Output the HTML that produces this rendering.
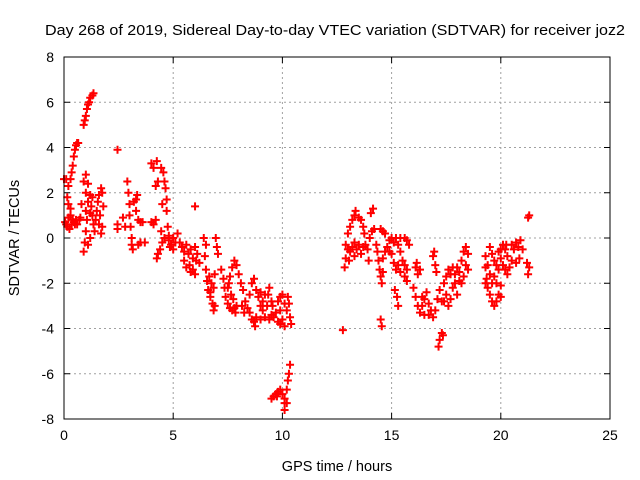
<!DOCTYPE html>
<html><head><meta charset="utf-8"><style>
html,body{margin:0;padding:0;background:#fff;}
svg{display:block;font-family:"Liberation Sans",sans-serif;}
</style></head><body>
<svg id="c" width="640" height="480">
<text x="335" y="35" text-anchor="middle" font-size="14.5" textLength="580" lengthAdjust="spacingAndGlyphs">Day 268 of 2019, Sidereal Day-to-day VTEC variation (SDTVAR) for receiver joz2</text>
<text x="337" y="471" text-anchor="middle" font-size="14.5">GPS time / hours</text>
<text transform="translate(19,238) rotate(-90)" text-anchor="middle" font-size="14.5">SDTVAR / TECUs</text>
<g id="grid"></g><g id="ticks"></g><g id="pts"></g>
<rect x="64" y="57" width="546" height="362" fill="none" stroke="#000" stroke-width="1"/>
</svg>
<script>
const xTicks=[0,5,10,15,20,25];
const yTicks=[-8,-6,-4,-2,0,2,4,6,8];
const times=[0.05,0.1,0.15,0.2,0.25,0.3,0.35,0.4,0.45,0.5,0.55,0.6,0.2,0.15,0.3,0.1,0.0,0.2,
0.3,0.35,0.4,0.45,0.5,0.55,0.6,0.65,
0.9,0.95,1.0,1.05,1.1,1.15,1.2,1.3,1.35,
0.9,0.95,1.0,1.05,1.0,1.1,1.0,0.9,1.0,1.1,1.2,1.25,1.3,1.35,1.4,1.2,1.1,1.45,1.5,1.55,1.6,1.7,1.65,1.6,1.7,1.75,1.8,1.75,1.2,1.3,0.7,0.8,0.75,
2.45,2.45,2.45,2.8,2.7,
2.9,2.95,3.0,3.0,3.05,3.1,3.15,3.1,3.2,3.3,3.3,3.4,3.35,3.4,3.5,3.5,3.7,3.6,
4.0,4.1,4.25,4.3,4.2,4.45,4.55,4.6,4.65,4.7,4.7,4.75,4.8,4.5,4.45,4.4,4.3,4.25,4.5,4.0,4.1,4.2,4.6,4.8,4.9,5.0,5.0,5.1,5.2,4.85,
6.0,
5.3,5.4,5.5,5.6,5.7,5.5,5.6,5.75,5.8,5.9,6.0,5.9,6.05,6.1,6.2,5.8,6.0,
6.4,6.5,6.45,6.5,6.55,6.6,6.7,6.8,6.9,6.65,6.75,6.85,6.9,6.95,7.0,7.05,6.7,6.85,
7.2,7.3,7.35,7.4,7.5,7.6,7.7,7.8,7.9,7.5,7.6,7.7,7.8,7.9,8.0,7.65,7.75,8.1,8.2,7.85,8.15,8.25,7.55,
8.3,8.4,8.5,8.6,8.7,8.75,8.8,8.5,8.6,8.7,8.8,8.9,9.0,9.1,9.2,9.3,9.35,9.4,9.5,9.6,9.7,9.2,9.0,9.1,9.55,9.4,9.5,9.0,9.8,9.9,
9.8,9.9,10.0,10.1,10.2,10.25,10.3,10.35,10.4,10.0,10.1,9.9,
9.5,9.6,9.7,9.8,9.9,10.0,10.1,10.1,10.1,10.2,10.2,10.25,10.3,10.35,9.75,
12.77,
12.9,12.9,12.85,13.0,13.0,13.1,13.2,13.3,13.35,13.5,13.6,13.7,13.75,13.1,13.2,13.3,13.4,13.5,13.6,13.7,13.8,13.9,13.3,13.05,13.95,14.0,14.1,14.2,14.05,14.15,14.5,14.6,14.7,
14.3,14.35,14.4,14.45,14.5,14.55,14.6,14.6,14.7,14.8,14.9,14.5,14.55,
14.9,15.0,15.1,15.2,15.3,15.4,15.5,15.6,15.7,15.0,15.1,15.2,15.3,15.4,15.6,15.7,15.15,15.25,15.3,15.6,15.7,15.8,15.4,
16.1,16.2,16.3,16.15,16.9,17.0,17.05,16.95,
16.0,16.1,16.2,16.3,16.4,16.5,16.6,16.7,16.8,16.9,17.0,17.1,17.2,16.5,16.4,16.7,17.3,17.3,17.2,17.15,17.35,
17.4,17.5,17.6,17.7,17.8,17.9,18.0,18.1,18.2,18.3,18.4,18.5,18.4,18.3,18.2,17.5,17.6,17.7,17.8,17.9,18.0,18.1,18.5,17.4,
19.3,19.3,19.35,19.4,19.5,19.6,19.7,19.8,19.9,20.0,19.5,19.6,19.7,19.8,19.9,19.4,19.5,19.6,19.7,19.8,19.9,20.0,20.1,20.2,20.3,20.4,20.5,20.1,20.2,20.3,20.5,20.6,20.7,20.8,20.9,21.0,20.85,20.7,20.0,19.3,21.25,21.3,21.2,21.25,21.3,20.25,20.0];
const values=[0.7,0.6,0.5,0.9,0.4,1.0,0.6,0.8,0.7,0.6,0.8,0.6,1.5,1.8,1.3,2.6,2.6,2.3,
2.6,2.9,3.2,3.6,3.9,4.1,4.2,4.2,
5.0,5.2,5.4,5.7,5.9,6.0,6.2,6.3,6.4,
-0.6,-0.2,0.3,0.8,1.2,1.6,2.0,2.5,2.8,2.4,1.9,1.4,1.0,0.6,0.3,0.0,-0.3,0.8,1.2,1.6,1.9,2.2,1.0,0.6,0.2,0.5,1.4,2.0,1.1,1.8,0.8,1.5,0.9,
3.9,0.6,0.4,0.5,0.9,
2.5,2.0,1.5,1.0,0.5,0.0,-0.5,-0.3,1.6,1.7,1.2,0.8,1.9,-0.3,0.7,-0.2,-0.2,0.7,
3.3,3.1,3.4,2.5,2.3,3.1,2.9,2.5,2.2,1.7,1.2,0.5,0.1,-0.2,0.3,-0.5,-0.7,-0.9,1.5,0.7,0.6,0.8,0.0,-0.1,-0.3,0.0,-0.5,-0.2,0.2,-0.4,
1.4,
-0.2,-0.4,-0.6,-0.3,-0.7,-1.0,-1.3,-1.2,-1.5,-1.4,-1.6,-0.9,-1.0,-0.7,-1.1,-0.5,-0.4,
0.0,-0.3,-0.8,-1.4,-1.9,-2.3,-2.6,-2.9,-3.0,-1.7,-2.0,-2.2,-1.6,0.0,-0.4,-0.7,-2.4,-3.2,
-1.4,-1.8,-2.2,-2.6,-2.9,-3.1,-3.2,-3.1,-3.0,-2.2,-1.7,-1.3,-1.0,-1.2,-1.6,-2.5,-2.7,-2.0,-2.3,-3.3,-3.0,-3.3,-2.0,
-2.8,-3.1,-3.3,-3.6,-3.7,-3.9,-3.5,-2.5,-2.0,-1.8,-2.3,-2.6,-3.0,-3.2,-3.5,-3.0,-2.5,-2.2,-2.8,-3.5,-3.3,-2.5,-2.4,-2.8,-3.0,-3.6,-3.4,-3.6,-3.7,-3.8,
-2.8,-3.2,-3.6,-3.9,-3.2,-2.6,-2.9,-3.5,-3.8,-2.5,-2.9,-2.6,
-7.1,-7.0,-6.9,-6.8,-6.7,-6.9,-7.1,-7.3,-7.6,-7.3,-6.7,-6.3,-6.0,-5.6,-7.0,
-4.07,
-0.3,-0.9,-1.3,-0.5,0.2,0.5,0.8,1.0,1.2,0.9,0.8,0.5,0.2,-0.6,-0.4,-0.8,-0.5,-0.3,-0.7,-0.4,-0.3,-0.5,-0.2,-1.0,-1.0,0.0,0.3,0.4,1.1,1.3,0.4,0.3,0.2,
-0.3,-0.6,-1.0,-1.4,-1.7,-2.0,-1.5,-0.9,-0.6,-0.4,-0.6,-3.6,-3.9,
-0.1,0.0,-0.2,0.0,-0.3,-0.6,-1.0,-1.2,-1.4,-0.7,-1.1,-1.4,-1.2,-1.5,-1.7,-1.9,-2.3,-2.6,-3.0,0.0,-0.1,-0.3,0.0,
-1.3,-1.6,-1.4,-1.1,-0.8,-1.2,-1.5,-0.6,
-2.2,-2.6,-3.0,-3.3,-3.0,-2.7,-2.4,-2.9,-3.2,-3.5,-3.2,-2.7,-2.3,-3.4,-2.6,-3.4,-2.8,-4.2,-4.5,-4.8,-4.3,
-2.0,-1.7,-1.4,-1.6,-1.3,-1.6,-1.3,-1.5,-1.0,-0.6,-0.4,-0.7,-1.2,-1.7,-2.0,-2.5,-3.0,-2.7,-2.2,-2.0,-2.5,-1.9,-1.4,-2.8,
-0.8,-1.3,-1.8,-2.2,-2.5,-2.8,-3.0,-2.8,-2.5,-2.1,-0.4,-0.7,-1.0,-1.2,-1.4,-1.2,-1.6,-2.0,-1.7,-2.0,-0.6,-0.9,-1.2,-1.4,-1.6,-1.3,-1.0,-0.3,-0.5,-0.8,-0.3,-0.5,-0.2,-0.4,-0.1,-0.5,-0.9,-1.1,-0.5,-2.0,0.9,1.0,-1.1,-1.6,-1.3,-0.3,-2.6];

const L=64,R=610,T=57,B=419;
const X=t=>L+(t-0)/(25-0)*(R-L);
const Y=v=>B-(v+8)/16*(B-T);
const NS='http://www.w3.org/2000/svg';
const grid=document.getElementById('grid'),ticks=document.getElementById('ticks'),pts=document.getElementById('pts');
function mk(tag,attrs,parent){const e=document.createElementNS(NS,tag);for(const k in attrs)e.setAttribute(k,attrs[k]);parent.appendChild(e);return e;}
xTicks.forEach(t=>{
 const x=X(t);
 if(t>0&&t<25){const g=mk('line',{x1:x,x2:x,y1:T,y2:B,stroke:'#a0a0a0','stroke-dasharray':'2,3'},grid);
 
 }
 mk('line',{x1:x,x2:x,y1:B,y2:B-6,stroke:'#000'},ticks);
 mk('line',{x1:x,x2:x,y1:T,y2:T+6,stroke:'#000'},ticks);
 const tx=mk('text',{x:x,y:B+21,'text-anchor':'middle','font-size':'14'},ticks);tx.textContent=t;
 
 
});
yTicks.forEach(v=>{
 const y=Y(v);
 if(v>-8&&v<8){const g=mk('line',{x1:L,x2:R,y1:y,y2:y,stroke:'#a0a0a0','stroke-dasharray':'2,3'},grid);
 
 }
 mk('line',{x1:L,x2:L+6,y1:y,y2:y,stroke:'#000'},ticks);
 mk('line',{x1:R,x2:R-6,y1:y,y2:y,stroke:'#000'},ticks);
 const tx=mk('text',{x:L-10,y:y+5,'text-anchor':'end','font-size':'14'},ticks);tx.textContent=v;
 
 
});
times.forEach((t,i)=>{
 const x=X(t),y=Y(values[i]);
 const p=mk('path',{d:`M${x-4},${y}H${x+4}M${x},${y-4}V${y+4}`,stroke:'#ff0000','stroke-width':'2',fill:'none'},pts);
 
 
});
</script>
</body></html>
